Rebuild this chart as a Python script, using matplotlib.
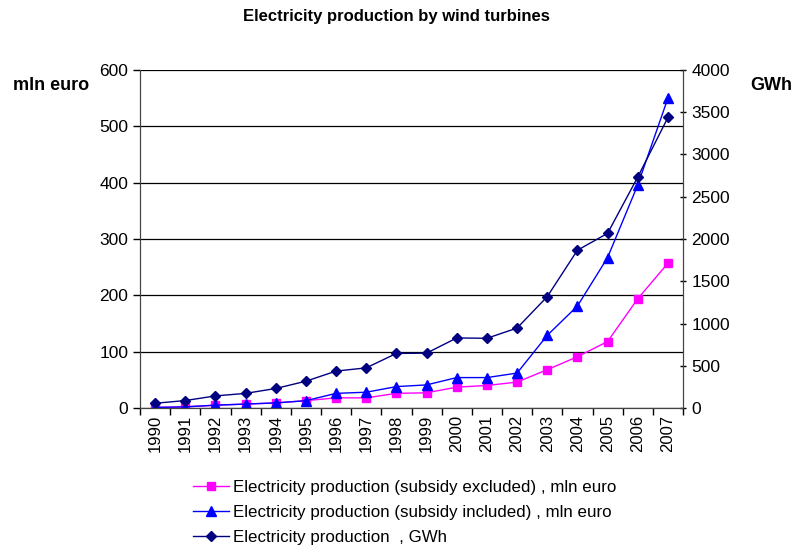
import numpy as np
import matplotlib
matplotlib.use("Agg")
import matplotlib.pyplot as plt

plt.rcParams["font.family"] = ["Liberation Sans", "DejaVu Sans"]

years = [str(y) for y in range(1990, 2008)]
subsidy_excluded = [1, 2, 5, 7, 9, 13, 18, 18, 26, 27, 37, 40, 46, 68, 91, 118, 194, 257]
subsidy_included = [1, 2, 5, 7, 9, 13, 26, 28, 38, 41, 54, 54, 62, 129, 181, 267, 396, 550]
production_gwh = [56, 88, 143, 173, 231, 317, 437, 475, 646, 649, 829, 825, 946, 1318,
                  1867, 2067, 2733, 3438]

fig = plt.figure(figsize=(7.92, 5.49), dpi=100)
ax = fig.add_axes([140 / 792, 1 - 408 / 549, 543 / 792, 338 / 549])
ax2 = ax.twinx()

x = np.arange(len(years))

# euro series on the left axis
l1, = ax.plot(x, subsidy_excluded, color="#FF00FF", lw=1, marker="s", ms=6,
              mfc="#FF00FF", mec="#FF00FF",
              label="Electricity production (subsidy excluded) , mln euro")
l2, = ax.plot(x, subsidy_included, color="#0000FF", lw=1, marker="^", ms=7,
              mfc="#0000FF", mec="#0000FF",
              label="Electricity production (subsidy included) , mln euro")
# GWh series on the right axis
l3, = ax2.plot(x, production_gwh, color="#000080", lw=1, marker="D", ms=5,
               mfc="#000080", mec="#000080",
               label="Electricity production  , GWh")

ax.set_xlim(-0.5, len(years) - 0.5)
ax.set_ylim(0, 600)
ax2.set_ylim(0, 4000)
ax.set_yticks(range(0, 601, 100))
ax2.set_yticks(range(0, 4001, 500))

ax.set_xticks(x)
ax.set_xticklabels(years, rotation=90, fontsize=12)
ax.set_xticks(np.arange(len(years) + 1) - 0.5, minor=True)
ax.tick_params(axis="x", which="major", length=0, pad=5)
ax.tick_params(axis="x", which="minor", length=5, direction="out", width=1)
ax.tick_params(axis="y", labelsize=12.5, length=5, direction="out", width=1)
ax2.tick_params(axis="y", labelsize=12.5, length=5, direction="inout", width=1)

ax.grid(axis="y", color="black", lw=0.9)
ax.set_axisbelow(True)
for a in (ax, ax2):
    a.spines["top"].set_visible(False)
    a.spines["left"].set_color("#444444")
    a.spines["right"].set_color("#444444")
    a.spines["bottom"].set_color("#444444")

fig.text(0.5, 1 - 17 / 549, "Electricity production by wind turbines",
         ha="center", va="center", fontsize=12, fontweight="bold")
fig.text(13 / 792, 1 - 85 / 549, "mln euro", ha="left", va="center",
         fontsize=13, fontweight="bold")
fig.text(750 / 792, 1 - 85 / 549, "GWh", ha="left", va="center",
         fontsize=13, fontweight="bold")

fig.legend(handles=[l1, l2, l3], loc="upper left",
           bbox_to_anchor=(193 / 792, 1 - 480 / 549), frameon=False,
           fontsize=12.2, handlelength=2.1, handletextpad=0.25,
           labelspacing=0.6, borderpad=0, borderaxespad=0)

fig.savefig("out.png", dpi=100)
